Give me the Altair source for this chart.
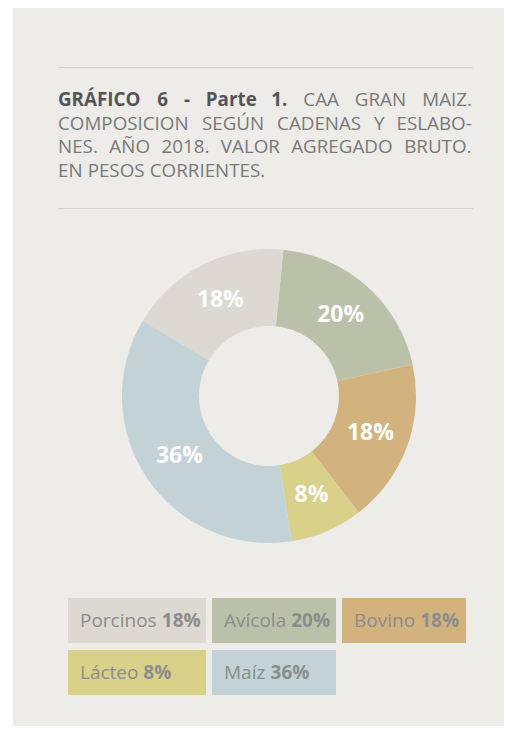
import altair as alt
import pandas as pd
import math

# ---------------- data ----------------
categories = ["Avícola", "Bovino", "Lácteo", "Maíz", "Porcinos"]
shares = [20, 18, 8, 36, 18]
colors = ["#bbc1a8", "#d3b37d", "#d9d08a", "#c3d2d7", "#dbd9d2"]

legend_order = ["Porcinos", "Avícola", "Bovino", "Lácteo", "Maíz"]

title_bold = "GRÁFICO 6 - Parte 1."
title_lines = [
    "CAA GRAN MAIZ.",
    "COMPOSICION SEGÚN CADENAS Y ESLABO-",
    "NES. AÑO 2018. VALOR AGREGADO BRUTO.",
    "EN PESOS CORRIENTES.",
]

# ---------------- layout ----------------
W, H = 496, 718
BG = "#edece8"
CX, CY = 261, 388
R_OUT, R_IN, R_LAB = 147, 70, 108
START = math.radians(5.6)

TITLE_X0, TITLE_X1 = 50, 464
TITLE_Y = [98, 121.5, 145, 168.5]
TITLE_FS = 18.8
LEG_FS = 19
LEG_COL_X = [60, 204, 334]
LEG_COL_W = [138, 124, 124]
LEG_ROW_Y = [590, 642]
LEG_H = 45

REG = {" ": .26, "A": .633, "B": .648, "C": .631, "D": .729, "E": .556, "F": .516,
       "G": .728, "H": .738, "I": .279, "L": .524, "M": .903, "N": .760, "Ñ": .760,
       "O": .781, "P": .611, "R": .622, "S": .549, "T": .556, "U": .734, "Ú": .734,
       "V": .579, "Y": .524, "Z": .564, "Á": .633, ".": .266, "-": .322, "%": .828,
       "a": .556, "á": .556, "c": .476, "e": .561, "i": .253, "í": .253, "l": .253,
       "n": .614, "o": .604, "r": .408, "s": .477, "t": .353, "v": .504, "z": .477}
BOLD = {"%": .87, ".": .29, "-": .32, " ": .26}


def text_w(s, fs, bold=False):
    tot = 0.0
    for ch in s:
        if ch.isdigit():
            w = .572
        elif bold:
            w = BOLD.get(ch, REG.get(ch, .6) * 1.06)
        else:
            w = REG.get(ch, .6)
        tot += w
    return tot * fs


# title words, justified for the first three lines
rows = []
for i, line in enumerate(title_lines):
    words = []
    if i == 0:
        words += [(w, True) for w in title_bold.split(" ")]
    words += [(w, False) for w in line.split(" ")]
    widths = [text_w(w, TITLE_FS, b) for w, b in words]
    if i < 3:
        gap = (TITLE_X1 - TITLE_X0 - sum(widths)) / (len(words) - 1)
    else:
        gap = text_w(" ", TITLE_FS)
    x = TITLE_X0
    for (w, b), ww in zip(words, widths):
        rows.append({"word": w, "x": x, "y": TITLE_Y[i], "bold": b})
        x += ww + gap
title_df = pd.DataFrame(rows)

pie_df = pd.DataFrame({
    "cat": categories,
    "value": shares,
    "ord": list(range(len(categories))),
    "label": [f"{v}%" for v in shares],
})

share_of = dict(zip(categories, shares))
leg_rows = []
for i, c in enumerate(legend_order):
    col, row = i % 3, i // 3
    x0 = LEG_COL_X[col]
    y0 = LEG_ROW_Y[row]
    tx = x0 + 12
    leg_rows.append({
        "cat": c, "name": c, "pct": f"{share_of[c]}%",
        "x0": x0, "x1": x0 + LEG_COL_W[col], "y0": y0, "y1": y0 + LEG_H,
        "tx": tx, "px": tx + text_w(c + " ", LEG_FS), "ty": y0 + 29,
    })
leg_df = pd.DataFrame(leg_rows)

color_scale = alt.Scale(domain=categories, range=colors)
theta_scale = alt.Scale(range=[START, START + 2 * math.pi])
one = pd.DataFrame({"a": [0]})

panel = alt.Chart(one).mark_rect(color=BG).encode(
    x=alt.value(5), x2=alt.value(W), y=alt.value(0), y2=alt.value(H))

rule_top = alt.Chart(one).mark_rule(color="#d6d4cf", strokeWidth=1).encode(
    x=alt.value(TITLE_X0), x2=alt.value(TITLE_X1 + 1), y=alt.value(59.5))
rule_bot = alt.Chart(one).mark_rule(color="#d6d4cf", strokeWidth=1).encode(
    x=alt.value(TITLE_X0), x2=alt.value(TITLE_X1 + 1), y=alt.value(200.5))

title_bold_layer = alt.Chart(title_df).transform_filter("datum.bold").mark_text(
    align="left", baseline="alphabetic", font="Open Sans", fontSize=TITLE_FS,
    fontWeight="bold", color="#555557").encode(
    x=alt.X("x:Q", scale=None, axis=None), y=alt.Y("y:Q", scale=None, axis=None),
    text="word:N")
title_norm_layer = alt.Chart(title_df).transform_filter("!datum.bold").mark_text(
    align="left", baseline="alphabetic", font="Open Sans", fontSize=TITLE_FS,
    color="#78797b").encode(
    x=alt.X("x:Q", scale=None, axis=None), y=alt.Y("y:Q", scale=None, axis=None),
    text="word:N")

arcs = alt.Chart(pie_df).mark_arc(outerRadius=R_OUT, innerRadius=R_IN, stroke=None).encode(
    theta=alt.Theta("value:Q", stack=True, scale=theta_scale),
    order=alt.Order("ord:Q"),
    color=alt.Color("cat:N", scale=color_scale, legend=None),
    x=alt.value(CX), y=alt.value(CY))

arc_labels = alt.Chart(pie_df).mark_text(
    radius=R_LAB, font="Open Sans", fontSize=23, fontWeight="bold", color="white",
    align="center", baseline="middle").encode(
    theta=alt.Theta("value:Q", stack=True, scale=theta_scale),
    order=alt.Order("ord:Q"),
    text="label:N",
    x=alt.value(CX), y=alt.value(CY))

leg_rects = alt.Chart(leg_df).mark_rect().encode(
    x=alt.X("x0:Q", scale=None, axis=None), x2="x1:Q",
    y=alt.Y("y0:Q", scale=None, axis=None), y2="y1:Q",
    color=alt.Color("cat:N", scale=color_scale, legend=None))
leg_names = alt.Chart(leg_df).mark_text(
    align="left", baseline="alphabetic", font="Open Sans", fontSize=LEG_FS,
    color="#8c8c8c").encode(
    x=alt.X("tx:Q", scale=None, axis=None), y=alt.Y("ty:Q", scale=None, axis=None),
    text="name:N")
leg_pcts = alt.Chart(leg_df).mark_text(
    align="left", baseline="alphabetic", font="Open Sans", fontSize=LEG_FS,
    fontWeight="bold", color="#8c8c8c").encode(
    x=alt.X("px:Q", scale=None, axis=None), y=alt.Y("ty:Q", scale=None, axis=None),
    text="pct:N")

chart = alt.layer(
    panel, rule_top, rule_bot, title_bold_layer, title_norm_layer,
    arcs, arc_labels, leg_rects, leg_names, leg_pcts,
).properties(
    width=W, height=H, padding=0, background="#ffffff",
    autosize=alt.AutoSizeParams(type="none"),
).configure_view(stroke=None)

chart.save("out.html", embed_options={"renderer": "svg", "actions": False})
